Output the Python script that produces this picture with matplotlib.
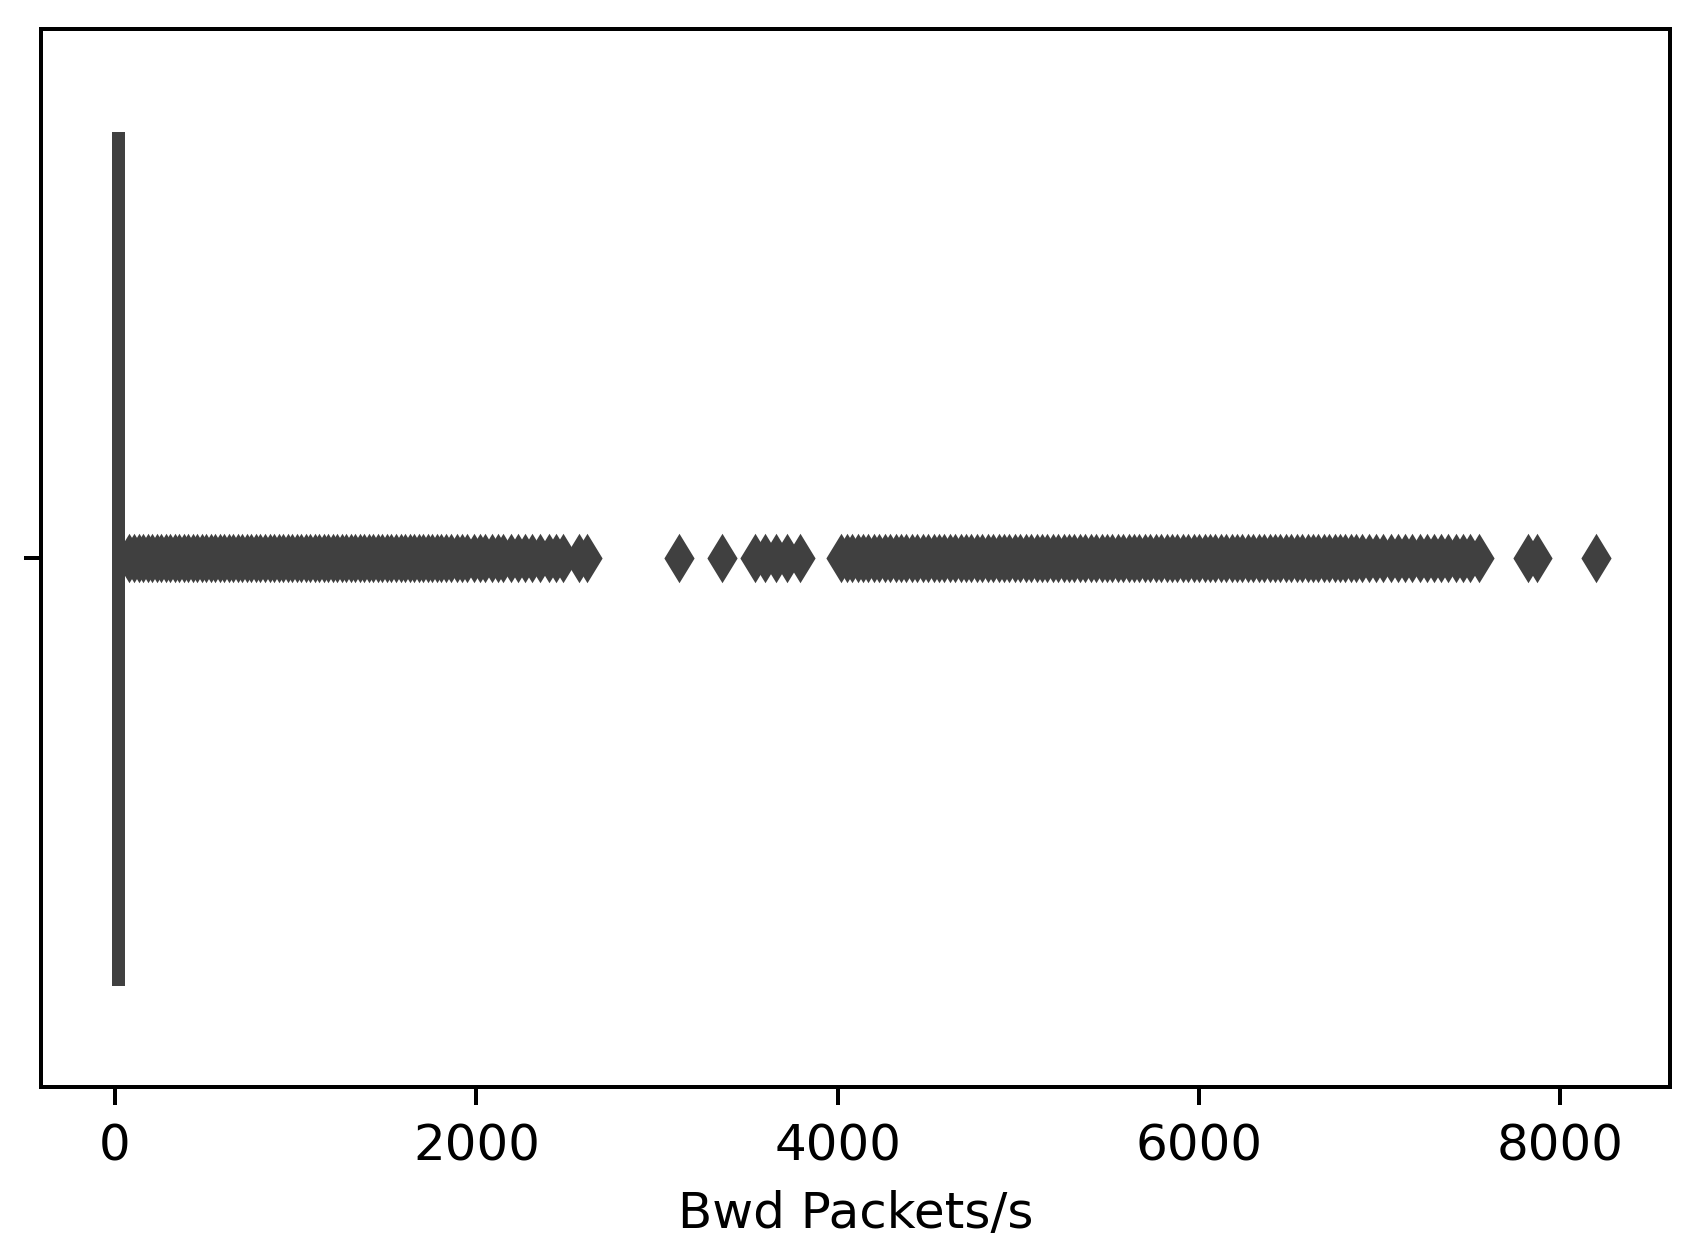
import matplotlib
matplotlib.use("Agg")
import matplotlib.pyplot as plt

# box statistics
q1 = 0
med = 5
q3 = 35
whis_lo = 0
whis_hi = 35

# outliers, left dense band
fliers_low = [80, 105, 130, 155, 180, 205, 230, 255, 280, 305, 330, 355,
              380, 405, 430, 455, 480, 505, 530, 555, 580, 605, 630, 655,
              680, 705, 730, 755, 780, 805, 830, 855, 880, 905, 930, 955,
              980, 1005, 1030, 1055, 1080, 1105, 1130, 1155, 1180, 1205,
              1230, 1255, 1280, 1305, 1330, 1355, 1380, 1405, 1430, 1455,
              1480, 1505, 1530, 1555, 1580, 1605, 1630, 1655, 1680, 1705,
              1730, 1755, 1780, 1805, 1830, 1860, 1890, 1920, 1950, 1985,
              2020, 2050, 2085, 2120, 2150, 2190, 2230, 2270, 2310, 2350,
              2400, 2440, 2480, 2570, 2610]
# isolated outliers in the gap
fliers_mid = [3120, 3360, 3540, 3600, 3660, 3720, 3790]
# right dense band
fliers_high = [4020, 4050, 4080, 4110, 4140, 4170, 4200, 4230, 4260, 4290,
               4320, 4350, 4380, 4410, 4440, 4470, 4500, 4530, 4560, 4590,
               4620, 4650, 4680, 4710, 4740, 4770, 4800, 4830, 4860, 4890,
               4920, 4950, 4980, 5010, 5040, 5070, 5100, 5130, 5160, 5190,
               5220, 5250, 5280, 5310, 5340, 5370, 5400, 5430, 5460, 5490,
               5520, 5550, 5580, 5610, 5640, 5670, 5700, 5730, 5760, 5790,
               5820, 5850, 5880, 5910, 5940, 5970, 6000, 6030, 6060, 6090,
               6120, 6150, 6180, 6210, 6240, 6270, 6300, 6330, 6360, 6390,
               6420, 6450, 6480, 6510, 6540, 6570, 6600, 6630, 6660, 6690,
               6720, 6750, 6780, 6810, 6840, 6870, 6900, 6940, 6980, 7020,
               7060, 7100, 7140, 7180, 7220, 7260, 7300, 7340, 7380, 7420,
               7460, 7500, 7550]
fliers_top = [7820, 7870, 8198]

x_label = "Bwd Packets/s"

gray = "#404040"

fig = plt.figure(figsize=(1693 / 360, 1257 / 360), dpi=360)
ax = fig.add_axes([0.0242, 0.1349, 0.9624, 0.8419])

stats = [{
    "q1": q1, "med": med, "q3": q3,
    "whislo": whis_lo, "whishi": whis_hi,
    "fliers": fliers_low + fliers_mid + fliers_high + fliers_top,
}]

ax.bxp(stats, positions=[0], widths=0.8, orientation="horizontal",
       patch_artist=True, showfliers=True,
       boxprops=dict(facecolor="#3274a1", edgecolor=gray, linewidth=1.4),
       medianprops=dict(color=gray, linewidth=1.4),
       whiskerprops=dict(color=gray, linewidth=1.4),
       capprops=dict(color=gray, linewidth=1.4),
       flierprops=dict(marker="d", markerfacecolor=gray, markeredgecolor=gray,
                       markersize=5, markeredgewidth=1.4, linestyle="none"))

ax.set_ylim(0.5, -0.5)
ax.set_yticks([0])
ax.set_yticklabels([""])
ax.margins(x=0.05)
ax.autoscale(axis="x")
ax.set_xticks([0, 2000, 4000, 6000, 8000])
ax.set_xticklabels(["0", "2000", "4000", "6000", "8000"])
ax.set_xlabel(x_label)

fig.savefig("out.png", dpi=360)
